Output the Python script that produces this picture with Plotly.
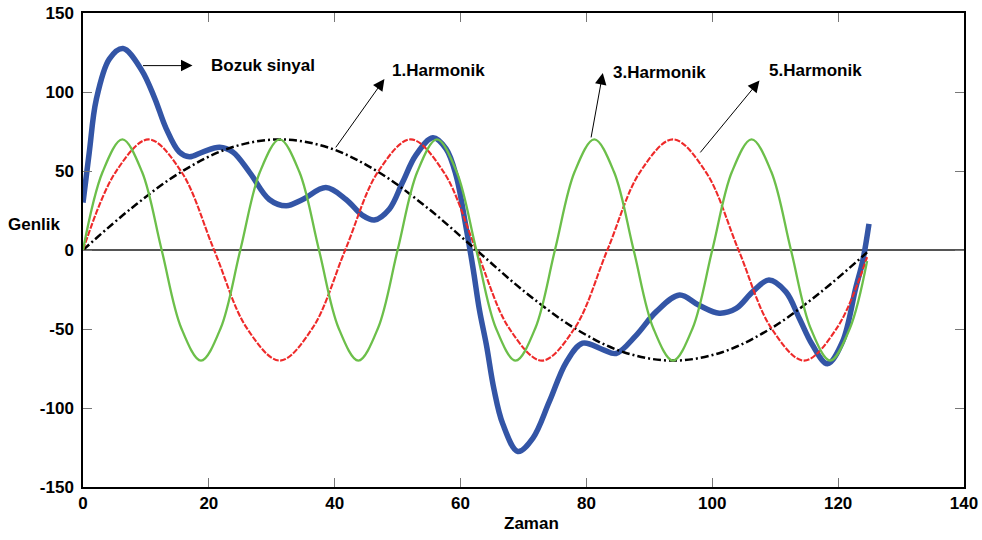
import plotly.graph_objects as go

# ---------------- data ----------------
# Bozuk sinyal (distorted signal)
blue_x = [0, 1.0, 2.1, 4.2, 6.35, 9.3, 11.4, 13.2, 15.3, 16.9, 19.0, 21.7, 23.8, 26.5,
          29.6, 32.3, 34.9, 38.6, 41.8, 44.4, 46.3, 48.7, 50.8, 52.9, 55.6, 57.7, 59.3,
          60.8, 62.0, 63.0, 64.1, 65.3, 66.7, 69.1, 71.5, 74.1, 76.8, 79.4, 82.6, 84.7,
          87.9, 91.1, 94.8, 97.9, 101.1, 103.8, 106.4, 109.0, 111.7, 113.8, 115.9, 118.3,
          120.7, 122.8, 123.9, 124.9]
blue_y = [30, 62, 95, 121, 127.5, 114, 96, 77, 62, 59, 62, 65, 62, 49,
          32, 28, 32, 39.5, 32, 22, 19, 26, 43, 60, 71, 64, 47,
          16, -12, -38, -60, -88, -110, -127.5, -119, -96, -71, -59, -63, -65.5,
          -54, -39, -28.5, -35, -40, -37, -26.5, -19, -26.5, -43, -60, -72,
          -58, -24, -7, 16.5]

# 1.Harmonik
h1_x = [0, 7.81, 15.63, 23.44, 31.25, 39.06, 46.88, 54.69, 62.5, 70.31, 78.13, 85.94,
        93.75, 101.56, 109.38, 117.19, 124.6]
h1_y = [0, 26.8, 49.5, 64.7, 70, 64.7, 49.5, 26.8, 0, -26.8, -49.5, -64.7,
        -70, -64.7, -49.5, -26.8, -1.5]

# 3.Harmonik
h3_x = [0, 5.21, 10.42, 15.63, 20.83, 26.04, 31.25, 36.46, 41.67, 46.88, 52.08, 57.29,
        62.5, 67.71, 72.92, 78.13, 83.33, 88.54, 93.75, 98.96, 104.17, 109.38, 114.58,
        119.79, 124.6]
h3_y = [0, 49.5, 70, 49.5, 0, -49.5, -70, -49.5, 0, 49.5, 70, 49.5,
        0, -49.5, -70, -49.5, 0, 49.5, 70, 49.5, 0, -49.5, -70,
        -49.5, -4.5]

# 5.Harmonik
h5_x = [0, 3.125, 6.25, 9.375, 12.5, 15.625, 18.75, 21.875, 25, 28.125, 31.25, 34.375,
        37.5, 40.625, 43.75, 46.875, 50, 53.125, 56.25, 59.375, 62.5, 65.625, 68.75,
        71.875, 75, 78.125, 81.25, 84.375, 87.5, 90.625, 93.75, 96.875, 100, 103.125,
        106.25, 109.375, 112.5, 115.625, 118.75, 121.875, 124.6]
h5_y = [0, 49.5, 70, 49.5, 0, -49.5, -70, -49.5, 0, 49.5, 70, 49.5,
        0, -49.5, -70, -49.5, 0, 49.5, 70, 49.5, 0, -49.5, -70,
        -49.5, 0, 49.5, 70, 49.5, 0, -49.5, -70, -49.5, 0, 49.5,
        70, 49.5, 0, -49.5, -70, -49.5, -7]

x_ticks = [0, 20, 40, 60, 80, 100, 120, 140]
y_ticks = [-150, -100, -50, 0, 50, 100, 150]
y_tick_text = ["-150", "-100", "-50", "0", "50", "100", "150"]

# labels: (text, text x, text y, arrow tail x, tail y, arrow head x, head y)
labels = [
    ("Bozuk sinyal", 20.1, 116.7, 9.3, 116.7, 17.4, 116.7),
    ("1.Harmonik", 48.8, 113.7, 40.0, 64.0, 47.9, 108.2),
    ("3.Harmonik", 83.9, 112.4, 80.7, 70.3, 82.6, 112.0),
    ("5.Harmonik", 108.7, 113.7, 97.9, 60.8, 107.5, 107.2),
]

FONT = "Liberation Sans, Arial, sans-serif"

fig = go.Figure()
fig.add_trace(go.Scatter(x=blue_x, y=blue_y, mode="lines", name="Bozuk sinyal",
                         line=dict(color="#3355a6", width=5.5, shape="spline")))
fig.add_trace(go.Scatter(x=h1_x, y=h1_y, mode="lines", name="1.Harmonik",
                         line=dict(color="black", width=2.5, shape="spline",
                                   dash="8px,3px,2px,3px")))
fig.add_trace(go.Scatter(x=h3_x, y=h3_y, mode="lines", name="3.Harmonik",
                         line=dict(color="#ee2a2a", width=2.1, shape="spline",
                                   dash="6px,1.5px")))
fig.add_trace(go.Scatter(x=h5_x, y=h5_y, mode="lines", name="5.Harmonik",
                         line=dict(color="#6cbf4a", width=2.3, shape="spline")))

for text, tx, ty, ax_, ay_, hx, hy in labels:
    fig.add_annotation(x=hx, y=hy, ax=ax_, ay=ay_, axref="x", ayref="y",
                       xref="x", yref="y", text="", showarrow=True,
                       arrowhead=2, arrowsize=2.3, arrowwidth=1, arrowcolor="black",
                       standoff=0, startstandoff=0)
    fig.add_annotation(x=tx, y=ty, xref="x", yref="y", text=text, showarrow=False,
                       xanchor="left", yanchor="middle",
                       font=dict(family=FONT, size=17, color="black", weight="bold"))

fig.add_annotation(x=0, y=16, xref="paper", yref="y", text="Genlik", showarrow=False,
                   xanchor="right", yanchor="middle", xshift=-20,
                   font=dict(family=FONT, size=17, color="black", weight="bold"))
fig.add_annotation(x=71.3, y=0, xref="x", yref="paper", text="Zaman", showarrow=False,
                   xanchor="center", yanchor="middle", yshift=-36,
                   font=dict(family=FONT, size=17, color="black", weight="bold"))

axis_common = dict(showgrid=False, showline=True, linecolor="black", linewidth=1.5,
                   mirror="ticks", ticks="inside", ticklen=9, tickcolor="#777",
                   tickwidth=1, automargin=False,
                   tickfont=dict(family=FONT, size=17, color="black", weight="bold"))

fig.update_xaxes(range=[0, 140], tickvals=x_ticks, zeroline=False, **axis_common)
fig.update_yaxes(range=[-150, 150], tickvals=y_ticks, ticktext=y_tick_text,
                 zeroline=True, zerolinecolor="#555", zerolinewidth=1.5,
                 ticklabelstandoff=4, **axis_common)

fig.update_layout(width=982, height=540, showlegend=False,
                  plot_bgcolor="white", paper_bgcolor="white",
                  margin=dict(l=83, r=18, t=13, b=53))

fig.write_html("out.html")
